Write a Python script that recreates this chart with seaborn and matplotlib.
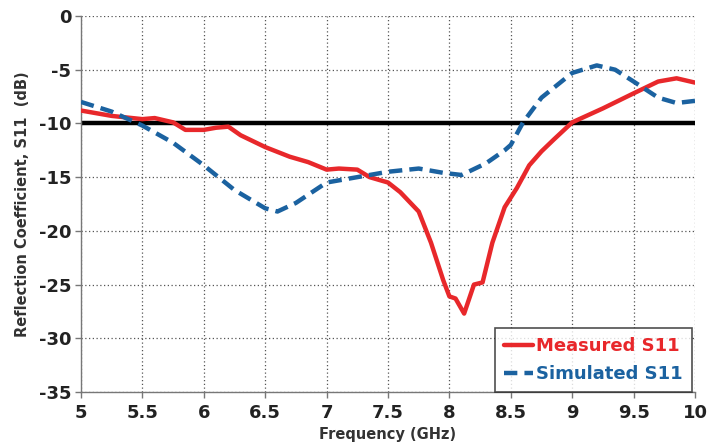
import numpy as np
import pandas as pd
import matplotlib
matplotlib.use("Agg")
import matplotlib.pyplot as plt
import seaborn as sns

# Measured S11
meas_f = [5.0, 5.25, 5.5, 5.6, 5.75, 5.85, 6.0, 6.1, 6.2, 6.3, 6.5, 6.7, 6.85, 7.0, 7.1, 7.25,
          7.35, 7.5, 7.6, 7.75, 7.85, 7.95, 8.0, 8.05, 8.12, 8.2, 8.27, 8.35, 8.45, 8.55, 8.65,
          8.75, 8.85, 9.0, 9.25, 9.5, 9.7, 9.85, 10.0]
meas_s = [-8.8, -9.3, -9.6, -9.5, -9.9, -10.6, -10.6, -10.4, -10.3, -11.1, -12.2, -13.1, -13.6,
          -14.3, -14.2, -14.3, -15.0, -15.5, -16.4, -18.2, -21.1, -24.6, -26.1, -26.3, -27.7,
          -25.0, -24.8, -21.1, -17.8, -16.0, -13.9, -12.6, -11.5, -9.9, -8.6, -7.2, -6.1, -5.8, -6.2]

# Simulated S11
sim_f = [5.0, 5.25, 5.5, 5.75, 6.0, 6.25, 6.5, 6.6, 6.75, 7.0, 7.25, 7.5, 7.75, 7.95, 8.1,
         8.3, 8.45, 8.5, 8.6, 8.75, 9.0, 9.2, 9.35, 9.5, 9.7, 9.85, 10.0]
sim_s = [-8.0, -8.9, -10.2, -11.8, -13.9, -16.2, -17.9, -18.2, -17.4, -15.5, -15.0, -14.5,
         -14.2, -14.6, -14.8, -13.7, -12.5, -12.0, -9.9, -7.6, -5.3, -4.6, -5.0, -6.1, -7.6, -8.1, -7.9]

threshold = -10
x_ticks = [5, 5.5, 6, 6.5, 7, 7.5, 8, 8.5, 9, 9.5, 10]
y_ticks = [0, -5, -10, -15, -20, -25, -30, -35]

red = "#e8282b"
blue = "#1b62a0"

sns.set_theme(style="white")
plt.rcParams['font.family'] = ['DejaVu Sans']

fig = plt.figure(figsize=(7.07, 4.45), dpi=100)
ax = fig.add_axes([81/707, 1-392/445, (695-81)/707, (392-16)/445])

df_m = pd.DataFrame({"f": meas_f, "s": meas_s})
df_s = pd.DataFrame({"f": sim_f, "s": sim_s})

ax.axhline(threshold, color="black", lw=3.2, zorder=2)
sns.lineplot(data=df_m, x="f", y="s", ax=ax, color=red, lw=3.2, label="Measured S11", zorder=3)
sns.lineplot(data=df_s, x="f", y="s", ax=ax, color=blue, lw=3.2, label="Simulated S11",
             zorder=3)
ax.lines[-1].set_dashes([3, 1.6])

ax.set_xlim(5, 10)
ax.set_ylim(-35, 0)
ax.set_xticks(x_ticks)
ax.set_xticklabels([f"{t:g}" for t in x_ticks])
ax.set_yticks(y_ticks)
ax.set_yticklabels([f"{t:g}" for t in y_ticks])

ax.grid(True, color="#555555", linestyle=(0, (1, 2)), lw=0.9)
for sp in ["top", "right"]:
    ax.spines[sp].set_visible(False)
for sp in ["left", "bottom"]:
    ax.spines[sp].set_color("#777777")
    ax.spines[sp].set_linewidth(1.0)

ax.tick_params(axis="both", which="both", direction="out", length=4, width=1,
               color="#777777", labelsize=13, labelcolor="#222222", pad=3,
               bottom=True, left=True)
ax.tick_params(axis="x", pad=5)
for lab in ax.get_xticklabels() + ax.get_yticklabels():
    lab.set_fontweight("bold")

ax.set_xlabel("Frequency (GHz)", fontsize=10.5, fontweight="bold", color="#333333", labelpad=3)
ax.set_ylabel("Reflection Coefficient, S11  (dB)", fontsize=10.5, fontweight="bold",
              color="#333333", labelpad=6)

leg = ax.legend(loc="lower right", bbox_to_anchor=(0.995, 0.0), frameon=True, fancybox=False,
                fontsize=13, handlelength=1.6, handletextpad=0.2, borderpad=0.5,
                labelspacing=0.55, borderaxespad=0)
leg.get_frame().set_edgecolor("#222222")
leg.get_frame().set_linewidth(1.2)
for txt, c in zip(leg.get_texts(), [red, blue]):
    txt.set_color(c)
    txt.set_fontweight("bold")

fig.savefig("out.png", dpi=100)
